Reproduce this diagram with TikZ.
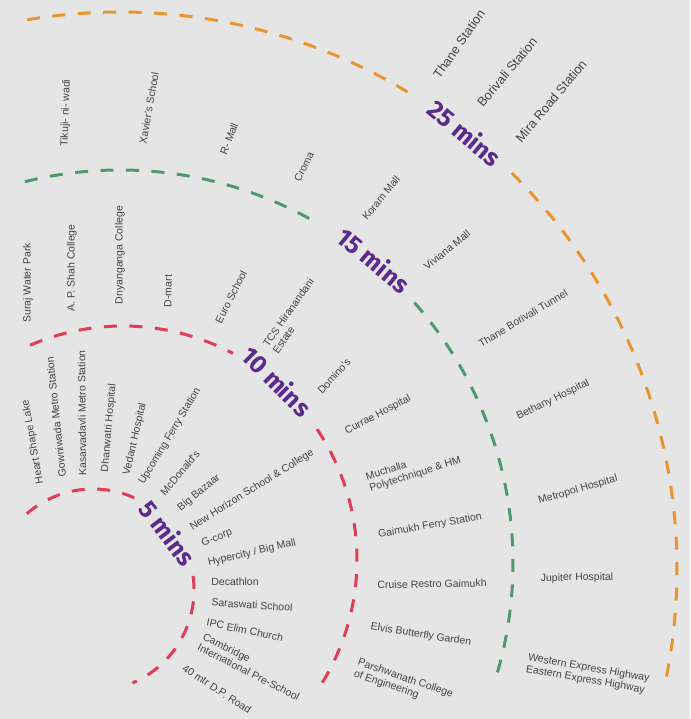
\documentclass[tikz,border=0pt]{standalone}
\usepackage{fontspec}
\newfontfamily\lbfont{Liberation Sans}
\newfontfamily\mnfont{Fira Sans}
\definecolor{bgc}{HTML}{E5E5E5}
\definecolor{redc}{HTML}{E23D52}
\definecolor{greenc}{HTML}{4F9A6C}
\definecolor{orangec}{HTML}{E8952F}
\definecolor{purplec}{HTML}{5A2A8C}
\definecolor{txtc}{HTML}{444444}
\tikzset{
  ring/.style={line width=3pt, dash pattern=on 13pt off 12.5pt},
  lbl/.style={font=\lbfont\fontsize{10.5}{12}\selectfont, text=txtc, inner sep=0pt},
  biglbl/.style={lbl, font=\lbfont\fontsize{12.8}{14}\selectfont},
  lbl2/.style={lbl, align=left, anchor=west},
  mins/.style={font=\mnfont\bfseries\fontsize{25}{28}\selectfont, text=purplec, inner sep=0pt}
}
\begin{document}
\begin{tikzpicture}[x=1pt,y=1pt]
\fill[bgc] (0,0) rectangle (690,719);
\useasboundingbox (0,0) rectangle (690,719);
\coordinate (C1) at (93,129);
\coordinate (C2) at (123,159);
\coordinate (C3) at (120,156);
\coordinate (C4) at (120,150);
% rings
\draw[ring, redc] (C1) ++(131:101) arc[start angle=131, end angle=66, radius=101];
\draw[ring, redc] (C1) ++(8:101) arc[start angle=8, end angle=-67, radius=101];
\draw[ring, redc] (C2) ++(113.4:234) arc[start angle=113.4, end angle=62, radius=234];
\draw[ring, redc] (C2) ++(34:234) arc[start angle=34, end angle=-33.4, radius=234];
\draw[ring, greenc] (C3) ++(104:393) arc[start angle=104, end angle=60, radius=393];
\draw[ring, greenc] (C3) ++(41.5:393) arc[start angle=41.5, end angle=-17.3, radius=393];
\draw[ring, orangec] (C4) ++(99.6:557) arc[start angle=99.6, end angle=58, radius=557];
\draw[ring, orangec] (C4) ++(45.3:557) arc[start angle=45.3, end angle=-12.4, radius=557];
% time labels
\node[mins, rotate=-53] (m5) at (168,186) {5 mins};
\node[mins, rotate=-45] (m10) at (277,338) {10 mins};
\node[mins, rotate=-40] (m15) at (374,459) {15 mins};
\node[mins, rotate=-40] (m25) at (465,586) {25 mins};
% outer band
\node[lbl, rotate=88] (t1) at (66,606) {Tikuji- ni- wadi};
\node[lbl, rotate=80] (t2) at (149,611) {Xavier's School};
\node[lbl, rotate=69] (t3) at (229,580) {R- Mall};
\node[lbl, rotate=63] (t4) at (304,552) {Croma};
\node[biglbl, rotate=55] (t5) at (459,675) {Thane Station};
\node[biglbl, rotate=50] (t6) at (507,647) {Borivali Station};
\node[biglbl, rotate=50] (t7) at (551,618) {Mira Road Station};
% green band
\node[lbl, rotate=90] (g1) at (28,436) {Suraj Water Park};
\node[lbl, rotate=90] (g2) at (72,451) {A. P. Shah College};
\node[lbl, rotate=90] (g3) at (120,464) {Dnyanganga College};
\node[lbl, rotate=89] (g4) at (168,428) {D-mart};
\node[lbl, rotate=63] (g5) at (231,422) {Euro School};
\node[lbl2, rotate=55] (g6) at (270,370) {TCS Hiranandani\\Estate};
\node[lbl, rotate=51] (g7) at (381,521) {Koram Mall};
\node[lbl, rotate=39] (g8) at (447,469) {Viviana Mall};
\node[lbl, rotate=48] (g9) at (334,343) {Domino's};
\node[lbl, rotate=28] (g10) at (378,304) {Currae Hospital};
\node[lbl2, rotate=17.5] (g11) at (368,235.6) {Muchalla\\Polytechnique \& HM};
\node[lbl, rotate=10] (g12) at (430,193) {Gaimukh Ferry Station};
\node[lbl, rotate=1] (g13) at (432,135) {Cruise Restro Gaimukh};
\node[lbl, rotate=-9] (g14) at (421,84) {Elvis Butterfly Garden};
\node[lbl2, rotate=-19] (g15) at (356,51) {Parshwanath College\\of Engineering};
\node[lbl, rotate=31] (o1) at (523,401) {Thane Borivali Tunnel};
\node[lbl, rotate=26] (o2) at (553,319) {Bethany Hospital};
\node[lbl, rotate=16] (o3) at (578,229) {Metropol Hospital};
\node[lbl, rotate=1] (o4) at (577,141) {Jupiter Hospital};
\node[lbl2, rotate=-10] (o5) at (527,55.5) {Western Express Highway\\Eastern Express Highway};
% red band
\node[lbl, rotate=100] (r1) at (33,277) {Heart Shape Lake};
\node[lbl, rotate=96] (r2) at (56,302) {Gowniwada Metro Station};
\node[lbl, rotate=90.5] (r3) at (82,306) {Kasarvadavli Metro Station};
\node[lbl, rotate=85] (r4) at (109,291) {Dhanwatri Hospital};
\node[lbl, rotate=77] (r5) at (135,280) {Vedant Hospital};
\node[lbl, rotate=59] (r6) at (170,283) {Upcoming Ferry Station};
\node[lbl, rotate=50] (r7) at (180,246) {McDonald's};
\node[lbl, rotate=39] (r8) at (199,226) {Big Bazaar};
\node[lbl, rotate=32] (r9) at (252,229) {New Horizon School \& College};
\node[lbl, rotate=23] (r10) at (217,181) {G-corp};
\node[lbl, rotate=13] (r11) at (252,166) {Hypercity / Big Mall};
\node[lbl, rotate=0] (r12) at (235,137) {Decathlon};
\node[lbl, rotate=-4] (r13) at (252,114) {Saraswati School};
\node[lbl, rotate=-11.5] (r14) at (245,89) {IPC Elim Church};
\node[lbl2, rotate=-27] (r15) at (201,78) {Cambridge\\International Pre-School};
\node[lbl, rotate=-33.5] (r16) at (217,30) {40 mtr D.P. Road};
\end{tikzpicture}
\end{document}
